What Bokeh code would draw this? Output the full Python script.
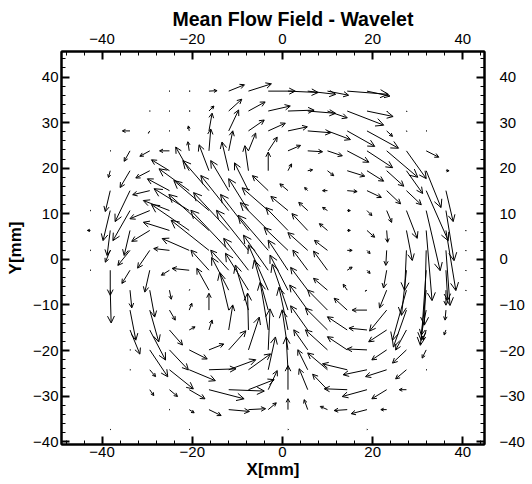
import math
from bokeh.plotting import figure
from bokeh.models import (Range1d, LinearAxis, SingleIntervalTicker, Arrow,
                          OpenHead, ColumnDataSource)
from bokeh.embed import file_html
from bokeh.resources import INLINE

# grid of vector tails [mm]
x_grid = [-42.57, -38.19, -33.81, -29.43, -25.06, -20.68, -16.30, -11.92, -7.54, -3.16,
          1.22, 5.60, 9.98, 14.36, 18.74, 23.11, 27.49, 31.87, 36.25, 40.63]
y_grid = [36.91, 32.54, 28.18, 23.81, 19.45, 15.08, 10.71, 6.35, 1.98, -2.38,
          -6.75, -11.12, -15.48, -19.85, -24.21, -28.58, -32.95, -37.31]

N = None
# vector components per row (u: x-component, v: y-component), columns follow x_grid
u_00 = [N]*4 + [0.1, 0.2, 1.8, 3.5, 5.1, 6.0, 6.7, 6.2, 4.7, 9.1, 5.1] + [N]*5
v_00 = [N]*4 + [0.0, 0.0, 0.1, 1.4, 1.6, 0.0, -0.3, -0.7, -0.9, -0.7, -1.1] + [N]*5
u_01 = [N]*3 + [0.1, 0.1, 0.2, 1.1, 2.9, 3.7, 4.9, 5.8, 6.2, 4.4, 8.1, 5.8, 0.2, 0.1] + [N]*3
v_01 = [N]*3 + [0.0, 0.0, 0.0, 1.1, 2.6, 2.0, 1.1, 0.2, -0.5, -1.5, -3.1, -1.2, -0.2, -0.1] + [N]*3
u_02 = [N]*2 + [-1.7, -0.3, 0.1, -0.2, 0.7, 2.2, 3.5, 3.8, 4.3, 5.1, 5.1, 6.1, 7.0, 1.3, 0.1, 0.1] + [N]*2
v_02 = [N]*2 + [0.0, -0.5, 0.0, 1.1, 3.9, 4.6, 2.4, 1.7, 0.9, -0.4, -1.9, -3.4, -3.8, -1.2, -0.1, 0.0] + [N]*2
u_03 = [N] + [0.1, -1.3, -2.2, -2.2, -0.3, 0.4, 0.9, 1.6, 2.0, 2.8, 3.3, 3.3, 4.8, 5.7, 6.9, 4.4, 2.8] + [N]*2
v_03 = [N] + [0.0, -2.3, -1.2, 0.0, 2.0, 4.8, 4.4, 3.9, 3.0, 1.2, -0.2, -1.1, -2.5, -3.7, -5.8, -6.1, -1.4] + [N]*2
u_04 = [N] + [-0.4, -2.2, -3.1, -4.0, -3.0, -2.2, -1.5, -0.8, 0.0, 0.8, 1.1, 1.4, 3.9, 3.7, 3.8, 3.6, 3.3, 0.7] + [N]
v_04 = [N] + [-1.5, -3.7, -1.6, 2.4, 5.2, 5.7, 6.3, 5.5, 4.1, 1.5, 0.2, -1.1, -1.2, -2.3, -3.4, -5.0, -8.1, 0.0] + [N]
u_05 = [N] + [-1.1, -3.3, -3.8, -4.9, -6.7, -5.8, -4.0, -3.1, -3.5, -1.8, -0.7, -1.1, 2.2, 3.2, 3.1, 3.3, 4.9, 1.6] + [N]
v_05 = [N] + [-4.6, -6.8, -0.9, 2.6, 4.8, 6.6, 6.6, 6.1, 3.3, 1.5, 0.7, 0.0, -0.2, -1.5, -2.9, -3.1, -11.0, -6.8] + [N]
u_06 = [0.1, -1.6, -3.8, -4.4, -5.8, -7.8, -7.8, -6.2, -4.4, -5.8, -3.8, -2.0, -1.1, 0.7, 1.1, 1.1, 2.4, 3.1, 1.8, N]
v_06 = [0.0, -6.6, -6.6, -1.8, 2.2, 4.8, 6.6, 7.7, 7.0, 5.0, 3.1, 1.8, 0.7, 0.0, -1.1, -2.6, -6.1, -13.2, -11.0, N]
u_07 = [-0.7, -0.7, -1.3, -4.0, -5.8, -8.4, -8.9, -7.8, -6.2, -6.2, -4.9, -3.5, -1.8, 0.7, 1.7, 0.2, 1.3, 1.3, 2.2, 0.1]
v_07 = [0.0, -5.5, -5.5, -2.4, 1.8, 5.7, 7.9, 8.3, 7.9, 6.1, 5.0, 3.7, 1.5, 0.0, -1.5, -2.6, -6.6, -15.4, -13.2, -0.1]
u_08 = [0.1, -1.1, -2.7, -2.7, -3.5, -6.0, -8.4, -8.4, -7.1, -6.7, -5.3, -4.4, -2.9, 1.1, 0.7, -0.2, -0.4, -0.4, 0.9, 0.1]
v_08 = [0.0, -2.6, -3.3, -3.9, 0.4, 2.6, 6.6, 8.8, 8.8, 7.7, 5.0, 3.9, 2.2, 0.0, -0.7, -3.3, -8.8, -16.4, -12.1, -0.1]
u_09 = [0.1, 0.0, -1.8, -1.1, -1.8, -3.8, -4.0, -4.0, -5.5, -5.5, -4.4, -3.3, -3.1, 1.1, 0.7, -0.7, -1.1, -1.1, 0.4, 0.1]
v_09 = [0.0, -5.5, -2.9, -4.8, -1.1, 0.4, 4.4, 4.4, 7.0, 7.7, 6.6, 4.4, 4.2, 0.7, -0.7, -3.9, -9.9, -15.4, -6.6, -0.1]
u_10 = [N, 0.2, 0.4, 1.1, 0.4, 0.1, -2.7, -3.8, -5.1, -4.4, -4.0, -3.8, -3.1, -0.9, -0.4, -1.6, -3.1, -1.3, 0.0, 0.1]
v_10 = [N, -7.2, -3.9, -5.9, -2.0, 0.1, 4.8, 7.2, 8.1, 9.9, 7.7, 5.0, 2.6, 1.3, -0.2, -3.9, -11.0, -12.1, -3.3, -0.1]
u_11 = [N, N, 1.3, 2.0, 1.3, 0.6, 0.0, -2.0, -2.9, -3.1, -3.5, -4.0, -4.4, -2.9, -3.3, -3.8, -2.9, -1.1, -0.2, N]
v_11 = [N, N, -6.6, -7.0, -2.2, 1.5, 3.7, 8.3, 9.9, 11.0, 10.1, 5.5, 4.4, 2.6, 0.0, -4.6, -8.1, -5.5, -2.2, N]
u_12 = [N, N, 2.2, 3.5, 2.9, 1.3, 0.7, 0.9, -0.2, -1.8, -2.0, -3.8, -4.9, -4.4, -4.0, -4.0, -2.4, -0.7, -0.4, N]
v_12 = [N, N, -5.3, -6.6, -3.3, 0.7, 2.2, 5.5, 8.1, 10.5, 9.4, 5.3, 4.8, 2.9, 0.4, -2.6, -4.4, -2.2, -1.1, N]
u_13 = [N, N, 0.1, 4.0, 4.2, 4.0, 3.3, 3.8, 2.4, 0.4, -1.3, -3.1, -4.9, -4.4, -4.4, -3.3, -3.1, -0.9, N, N]
v_13 = [N, N, 0.0, -5.9, -4.4, -2.0, 1.3, 4.2, 7.2, 9.0, 8.8, 4.4, 4.4, 2.9, 0.2, -2.2, -2.9, -1.8, N, N]
u_14 = [N, N, 0.1, 1.3, 5.3, 5.8, 6.0, 6.0, 4.9, 1.6, -0.4, -2.2, -4.4, -5.5, -5.3, -4.7, -2.4, 0.1, N, N]
v_14 = [N, N, 0.0, -1.5, -4.2, -2.4, 0.2, 2.2, 3.5, 7.2, 7.2, 4.4, 3.7, 1.3, -1.1, -1.5, -2.0, 0.0, N, N]
u_15 = [N, N, N, 0.9, 1.8, 3.5, 7.8, 7.9, 5.7, 2.0, 0.0, -1.9, -3.3, -5.1, -5.5, -3.3, -1.6, N, N, N]
v_15 = [N, N, N, -1.3, -1.5, -2.0, -2.0, -0.3, 2.2, 4.2, 5.3, 4.6, 3.4, 0.2, -1.5, -2.0, 0.0, N, N, N]
u_16 = [N]*4 + [0.1, 1.1, 2.7, 4.6, 3.8, 1.8, 0.0, -0.8, -1.6, -2.9, -3.5, -1.3] + [N]*4
v_16 = [N]*4 + [0.0, -0.7, -1.3, -0.4, 0.2, 1.5, 2.4, 2.2, 0.7, -0.2, -0.9, 0.0] + [N]*4
u_17 = [N, 0.1, N, N, N, 0.1, N, N, N, N, 0.1, N, N, N, 0.1, N, N, N, N, N]
v_17 = [N, 0.0, N, N, N, 0.0, N, N, N, N, 0.0, N, N, N, 0.0, N, N, N, N, N]

U_ROWS = [u_00, u_01, u_02, u_03, u_04, u_05, u_06, u_07, u_08,
          u_09, u_10, u_11, u_12, u_13, u_14, u_15, u_16, u_17]
V_ROWS = [v_00, v_01, v_02, v_03, v_04, v_05, v_06, v_07, v_08,
          v_09, v_10, v_11, v_12, v_13, v_14, v_15, v_16, v_17]

TITLE = "Mean Flow Field - Wavelet"
X_LABEL = "X[mm]"
Y_LABEL = "Y[mm]"

X0, X1 = -49.0, 44.8
Y0, Y1 = -40.6, 45.6
FRAME_W, FRAME_H = 423, 393
PX_X = FRAME_W / (X1 - X0)
PX_Y = FRAME_H / (Y1 - Y0)

xs, ys, xe, ye, hs = [], [], [], [], []
for j, (ur, vr) in enumerate(zip(U_ROWS, V_ROWS)):
    for i, (u, v) in enumerate(zip(ur, vr)):
        if u is None:
            continue
        x0, y0 = x_grid[i], y_grid[j]
        xs.append(x0); ys.append(y0)
        xe.append(x0 + u); ye.append(y0 + v)
        L = math.hypot(u * PX_X, v * PX_Y)
        hs.append(0.6 if L < 3 else min(8.0, 2.0 + 0.15 * L))

src = ColumnDataSource(dict(x0=xs, y0=ys, x1=xe, y1=ye, hs=hs))

FONT = "Liberation Sans"
p = figure(width=532, height=484,
           x_range=Range1d(X0, X1), y_range=Range1d(Y0, Y1),
           output_backend="svg", toolbar_location=None, title=TITLE,
           min_border_left=61, min_border_right=48, min_border_top=51,
           min_border_bottom=40)
p.title.text_font = FONT
p.title.text_font_size = "19.5px"
p.title.text_font_style = "bold"
p.title.text_color = "black"
p.title.align = "left"
p.title.offset = 111
p.title.standoff = 2
p.xgrid.visible = False
p.ygrid.visible = False
p.outline_line_color = "black"
p.outline_line_width = 2
p.background_fill_color = "white"
p.border_fill_color = "white"

p.add_layout(LinearAxis(axis_label=None), "above")
p.add_layout(LinearAxis(axis_label=None), "right")

for ax in p.xaxis:
    ax.ticker = SingleIntervalTicker(interval=20, num_minor_ticks=5)
for ax in p.yaxis:
    ax.ticker = SingleIntervalTicker(interval=10, num_minor_ticks=5)

for ax in list(p.xaxis) + list(p.yaxis):
    ax.axis_line_color = "black"
    ax.axis_line_width = 2
    ax.major_tick_in = 8
    ax.major_tick_out = 0
    ax.minor_tick_in = 4
    ax.minor_tick_out = 0
    ax.major_tick_line_width = 2
    ax.minor_tick_line_width = 1
    ax.major_tick_line_color = "black"
    ax.minor_tick_line_color = "black"
    ax.major_label_text_font = FONT
    ax.major_label_text_font_size = "15px"
    ax.major_label_text_color = "black"

for ax in (p.below[0], p.left[0]):
    ax.axis_label_text_font = FONT
    ax.axis_label_text_font_size = "17px"
    ax.axis_label_text_font_style = "bold"
    ax.axis_label_text_color = "black"

p.below[0].axis_label = X_LABEL
p.below[0].major_label_standoff = 2
p.below[0].axis_label_standoff = 0
p.left[0].axis_label = Y_LABEL
p.left[0].major_label_standoff = 3
p.left[0].axis_label_standoff = 5
p.right[0].major_label_standoff = 15
p.above[0].major_label_standoff = 8

arrows = Arrow(end=OpenHead(size="hs", line_color="black", line_width=1),
               x_start="x0", y_start="y0", x_end="x1", y_end="y1",
               line_color="black", line_width=1, source=src)
p.add_layout(arrows)

open("out.html", "w").write(file_html(p, INLINE))
